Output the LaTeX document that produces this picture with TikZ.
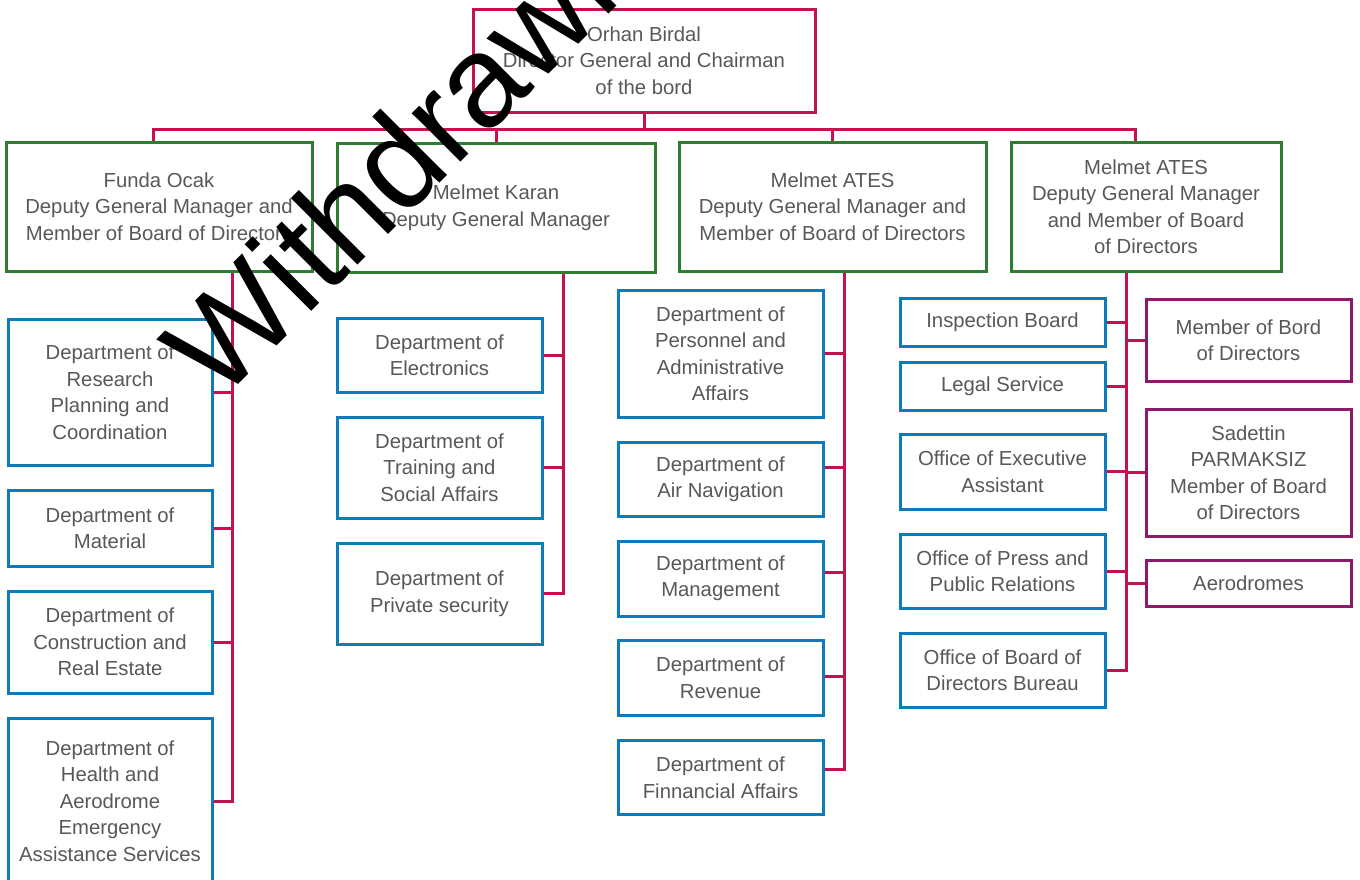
\documentclass[tikz,border=0pt]{standalone}
\usepackage{fontspec}
\setmainfont{Liberation Sans}

\definecolor{linkred}{RGB}{196,18,79}
\definecolor{depgreen}{RGB}{46,125,50}
\definecolor{deptblue}{RGB}{14,124,186}
\definecolor{boardpurple}{RGB}{139,26,106}
\definecolor{txtgray}{RGB}{88,88,88}

\tikzset{
  unit/.style={draw, line width=3pt, fill=white, inner sep=0pt, align=center,
    text=txtgray, font=\fontsize{20.3}{26.5}\selectfont},
  chief/.style={unit, draw=linkred, minimum width=342pt, minimum height=103pt},
  deputy/.style={unit, draw=depgreen, minimum height=129pt},
  dept/.style={unit, draw=deptblue, minimum width=205pt},
  board/.style={unit, draw=boardpurple, minimum width=205pt},
  link/.style={draw=linkred, line width=3pt}
}

\begin{document}
\begin{tikzpicture}[x=1pt,y=-1pt]
	\useasboundingbox (0,0) rectangle (1360,879);
	\clip (0,0) rectangle (1360,879);

	% head and deputies
	\node[chief] (top) at (644,60.5) {Orhan Birdal\\Director General and Chairman\\of the bord};
	\node[deputy, minimum width=306pt] (g1) at (159,206.5) {Funda Ocak\\Deputy General Manager and\\Member of Board of Directors};
	\node[deputy, minimum width=318pt] (g2) at (496,207.5) {Melmet Karan\\Deputy General Manager};
	\node[deputy, minimum width=307pt] (g3) at (832.5,206.5) {Melmet ATES\\Deputy General Manager and\\Member of Board of Directors};
	\node[deputy, minimum width=270pt] (g4) at (1146,206.5) {Melmet ATES\\Deputy General Manager\\and Member of Board\\of Directors};

	% first column
	\node[dept, minimum width=204pt, minimum height=146pt] (r1) at (110,392) {Department of\\Research\\Planning and\\Coordination};
	\node[dept, minimum width=204pt, minimum height=76pt] (r2) at (110,528) {Department of\\Material};
	\node[dept, minimum width=204pt, minimum height=102pt] (r3) at (110,642) {Department of\\Construction and\\Real Estate};
	\node[dept, minimum width=204pt, minimum height=166pt] (r4) at (110,801) {Department of\\Health and\\Aerodrome\\Emergency\\Assistance Services};

	% second column
	\node[dept, minimum height=74pt] (e1) at (439.5,355) {Department of\\Electronics};
	\node[dept, minimum height=101pt] (e2) at (439.5,467.5) {Department of\\Training and\\Social Affairs};
	\node[dept, minimum height=101pt] (e3) at (439.5,593.5) {Department of\\Private security};

	% third column
	\node[dept, minimum height=127pt] (p1) at (720.5,353.5) {Department of\\Personnel and\\Administrative\\Affairs};
	\node[dept, minimum height=74pt] (p2) at (720.5,479.5) {Department of\\Air Navigation};
	\node[dept, minimum height=75pt] (p3) at (720.5,578.5) {Department of\\Management};
	\node[dept, minimum height=75pt] (p4) at (720.5,677.5) {Department of\\Revenue};
	\node[dept, minimum height=74pt] (p5) at (720.5,777.5) {Department of\\Finnancial Affairs};

	% fourth column
	\node[dept, minimum height=48pt] (o1) at (1002.5,322) {Inspection Board};
	\node[dept, minimum height=48pt] (o2) at (1002.5,386) {Legal Service};
	\node[dept, minimum height=75pt] (o3) at (1002.5,471.5) {Office of Executive\\Assistant};
	\node[dept, minimum height=74pt] (o4) at (1002.5,571) {Office of Press and\\Public Relations};
	\node[dept, minimum height=74pt] (o5) at (1002.5,670) {Office of Board of\\Directors Bureau};
	\node[board, minimum height=82pt] (m1) at (1248.5,340) {Member of Bord\\of Directors};
	\node[board, minimum height=127pt] (m2) at (1248.5,472.5) {Sadettin\\PARMAKSIZ\\Member of Board\\of Directors};
	\node[board, minimum height=46pt] (m3) at (1248.5,583) {Aerodromes};

	% connectors
	\draw[link] (top.south) -- ++(0,16) -| ([xshift=-6pt]g1.north);
	\draw[link] (top.south) -- ++(0,16) -| (g2.north);
	\draw[link] (top.south) -- ++(0,16) -| (g3.north);
	\draw[link] (top.south) -- ++(0,16) -| ([xshift=-11pt]g4.north);

	\coordinate (c1) at (232,0);
	\coordinate (c2) at (563,0);
	\coordinate (c3) at (844,0);
	\coordinate (c4) at (1126,0);

	\draw[link] (g1.south -| c1) |- (r4.east);
	\foreach \n in {r1,r2,r3}
		\draw[link] (\n.east) -- (\n.east -| c1);
	\draw[link] (g2.south -| c2) |- (e3.east);
	\foreach \n in {e1,e2}
		\draw[link] (\n.east) -- (\n.east -| c2);
	\draw[link] (g3.south -| c3) |- ([yshift=8pt]p5.east);
	\foreach \n/\s in {p1/0,p2/12,p3/6,p4/1}
		\draw[link] ([yshift=\s pt]\n.east) -- ([yshift=\s pt]\n.east -| c3);
	\draw[link] (g4.south -| c4) |- (o5.east);
	\foreach \n in {o1,o2,o3,o4}
		\draw[link] (\n.east) -- (\n.east -| c4);
	\foreach \n in {m1,m2,m3}
		\draw[link] (\n.west) -- (\n.west -| c4);

	% stamp
	\node[rotate=45, anchor=base west, inner sep=0pt, text=black,
		font=\fontsize{130}{130}\selectfont] (stamp) at (219,404) {Withdrawn};
\end{tikzpicture}
\end{document}
